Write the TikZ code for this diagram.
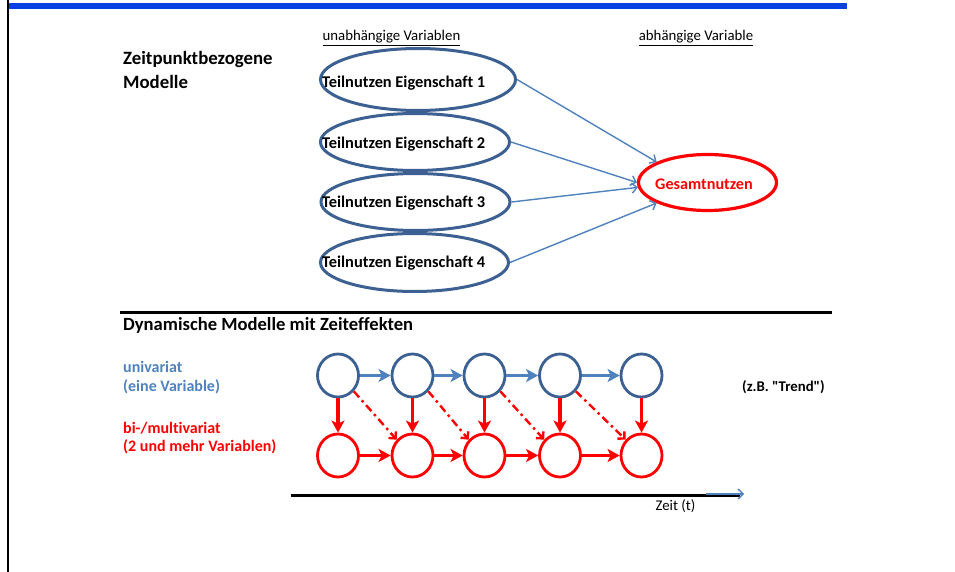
\documentclass[tikz,border=0pt]{standalone}
\usepackage{fontspec}
\setmainfont{Carlito}[Ligatures={NoCommon,TeXOff}]
\usetikzlibrary{arrows.meta,shapes.geometric}
\definecolor{barblue}{RGB}{8,64,226}
\definecolor{frameblue}{RGB}{60,96,145}
\definecolor{arrowblue}{RGB}{79,129,189}
\definecolor{signalred}{RGB}{255,0,0}
\newcommand{\fsz}[1]{\fontsize{#1}{#1}\selectfont}
\begin{document}
\begin{tikzpicture}[x=1pt,y=-1pt,
  txt/.style={inner sep=0pt,anchor=west},
  head/.style={txt,font=\fsz{18.8}\bfseries},
  small/.style={txt,font=\fsz{14.8}},
  ell/.style={ellipse,draw=frameblue,line width=3pt,inner sep=0pt},
  ellred/.style={ellipse,draw=signalred,line width=3.2pt,inner sep=0pt},
  eltext/.style={txt,font=\fsz{16.4}\bfseries},
  thin arrow/.style={draw=arrowblue,line width=1.4pt,-{Straight Barb[length=5pt,width=10pt]}},
  topnode/.style={ellipse,draw=frameblue,line width=2.8pt,minimum width=41pt,minimum height=43pt,inner sep=0pt},
  botnode/.style={ellipse,draw=signalred,line width=2.8pt,minimum width=41pt,minimum height=43pt,inner sep=0pt},
  bluestep/.style={draw=arrowblue,line width=3.2pt,-{Stealth[length=12pt,width=13pt,inset=3pt]}},
  redstep/.style={draw=signalred,line width=3.2pt,-{Stealth[length=12pt,width=13pt,inset=3pt]}},
  crossstep/.style={draw=signalred,line width=2.4pt,dash pattern=on 8pt off 4pt on 2.5pt off 4pt,
    -{Straight Barb[length=5pt,width=10pt]}}
]
\useasboundingbox (0,0) rectangle (955,572);

% page frame: blue header bar and left rule
\fill[barblue] (8,3) rectangle (847,9.5);
\draw[line width=2.4pt] (8,0) -- (8,572);

% ---- time-point models ----
\node[head] (h1a) at (123,59) {Zeitpunktbezogene};
\node[head] (h1b) at (123,82) {Modelle};
\node[small,anchor=center] (lu) at (391.5,38) {\underline{unabhängige Variablen}};
\node[small,anchor=center] (la) at (696,38) {\underline{abhängige Variable}};

\node[ell,minimum width=195pt,minimum height=62pt] (e1) at (418,79.5) {};
\node[ell,minimum width=189pt,minimum height=57pt] (e2) at (415,142) {};
\node[ell,minimum width=189pt,minimum height=57pt] (e3) at (415.5,202) {};
\node[ell,minimum width=188pt,minimum height=58pt] (e4) at (414.5,262.5) {};
\node[eltext] (t1) at (322,83) {Teilnutzen Eigenschaft 1};
\node[eltext] (t2) at (322,144) {Teilnutzen Eigenschaft 2};
\node[eltext] (t3) at (322,203) {Teilnutzen Eigenschaft 3};
\node[eltext] (t4) at (322,263) {Teilnutzen Eigenschaft 4};

\node[ellred,minimum width=138pt,minimum height=56pt] (g) at (707.5,182.5) {};
\node[txt,anchor=center,font=\fsz{16.2}\bfseries,text=signalred] (gt) at (704,184) {Gesamtnutzen};

\draw[thin arrow] (e1.east) -- (g.158);
\draw[thin arrow] (e2.east) -- (g.west);
\draw[thin arrow] (e3.east) -- (g.184);
\draw[thin arrow] (e4.east) -- (g.202);

% ---- separator ----
\coordinate (s1) at (120,312.7);
\coordinate (s2) at (832,312.7);
\draw[line width=2.7pt] (s1) -- (s2);

% ---- dynamic models ----
\node[head,font=\fsz{18.6}\bfseries] (h2) at (123,325) {Dynamische Modelle mit Zeiteffekten};
\node[txt,font=\fsz{16}\bfseries,text=arrowblue] (u1) at (123,367) {univariat};
\node[txt,font=\fsz{16}\bfseries,text=arrowblue] (u2) at (123,386.5) {(eine Variable)};
\node[txt,font=\fsz{16}\bfseries,text=signalred] (m1) at (123,428) {bi-/multivariat};
\node[txt,font=\fsz{16}\bfseries,text=signalred] (m2) at (123,447) {(2 und mehr Variablen)};
\node[txt,anchor=center,font=\fsz{14.8}\bfseries] (tr) at (783.5,387) {(z.B. "Trend")};

\foreach \i/\x in {1/338,2/412.5,3/484.5,4/560,5/641.5}{
  \node[topnode] (a\i) at (\x,375.5) {};
  \node[botnode] (b\i) at (\x,455.5) {};
}
\foreach \i/\j in {1/2,2/3,3/4,4/5}{
  \draw[bluestep] (a\i.east) -- (a\j.west);
  \draw[redstep] (b\i.east) -- (b\j.west);
  \draw[crossstep] (a\i.-45) -- (b\j.135);
}
\foreach \i in {1,...,5}{
  \draw[redstep] (a\i.south) -- (b\i.north);
}

% ---- time axis ----
\coordinate (z0) at (291,495);
\coordinate (z1) at (740,495);
\coordinate (z2) at (706,494);
\coordinate (z3) at (744,494);
\draw[line width=3pt] (z0) -- (z1);
\draw[thin arrow] (z2) -- (z3);
\node[txt,anchor=center,font=\fsz{14.8}] (zt) at (675.5,506) {Zeit (t)};

\end{tikzpicture}
\end{document}
